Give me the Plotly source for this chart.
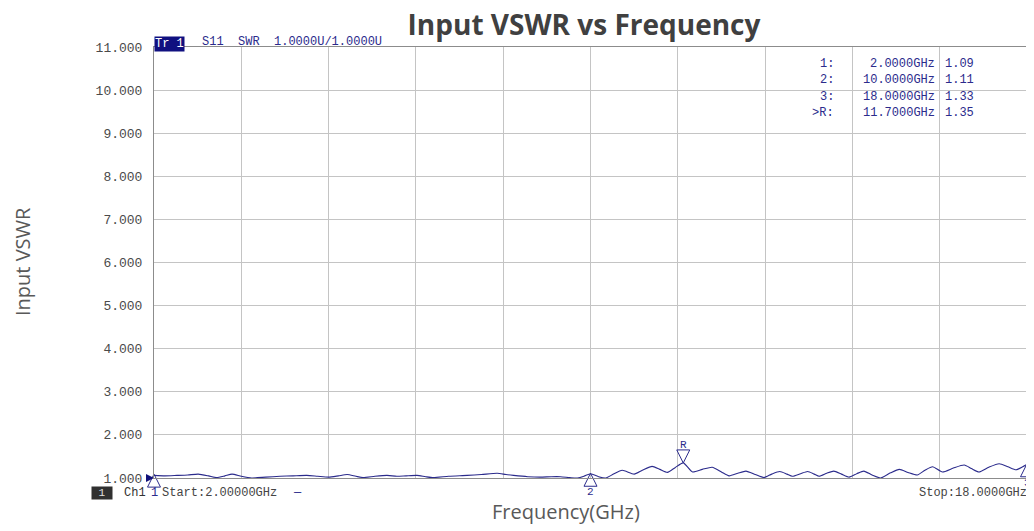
import plotly.graph_objects as go

# S11 SWR trace
freq_ghz = [2.00, 2.20, 2.42, 2.62, 2.81, 3.00, 3.15, 3.30, 3.43, 3.60, 3.79, 4.05, 4.31, 4.55,
            4.80, 5.00, 5.20, 5.38, 5.54, 5.70, 5.83, 6.05, 6.27, 6.45, 6.62, 6.82, 6.98, 7.12,
            7.40, 7.74, 8.00, 8.29, 8.45, 8.59, 8.85, 9.08, 9.28, 9.45, 9.62, 9.76, 9.88, 10.00,
            10.15, 10.28, 10.42, 10.58, 10.80, 10.95, 11.13, 11.27, 11.41, 11.55, 11.70, 11.87,
            12.05, 12.23, 12.40, 12.54, 12.70, 12.85, 13.02, 13.18, 13.32, 13.47, 13.60, 13.70,
            13.85, 13.98, 14.10, 14.19, 14.33, 14.46, 14.60, 14.74, 14.88, 15.01, 15.16, 15.32,
            15.50, 15.66, 15.82, 15.99, 16.13, 16.27, 16.45, 16.65, 16.85, 16.98, 17.12, 17.30,
            17.49, 17.65, 17.80, 17.92, 18.00]
vswr = [1.06, 1.05, 1.06, 1.07, 1.09, 1.05, 1.01, 1.05, 1.09, 1.04, 1.00, 1.02, 1.04, 1.05,
        1.06, 1.04, 1.02, 1.05, 1.08, 1.04, 1.01, 1.04, 1.06, 1.04, 1.05, 1.06, 1.03, 1.01,
        1.04, 1.06, 1.08, 1.11, 1.08, 1.06, 1.03, 1.02, 1.03, 1.03, 1.01, 1.00, 1.04, 1.10,
        1.03, 1.00, 1.09, 1.18, 1.09, 1.18, 1.27, 1.20, 1.13, 1.24, 1.35, 1.14,
        1.20, 1.25, 1.14, 1.05, 1.11, 1.16, 1.08, 1.01, 1.09, 1.15, 1.09, 1.04,
        1.10, 1.15, 1.09, 1.04, 1.11, 1.16, 1.09, 1.02, 1.10, 1.16, 1.07, 1.00,
        1.12, 1.20, 1.13, 1.07, 1.18, 1.26, 1.14, 1.23, 1.30, 1.22, 1.14, 1.25,
        1.33, 1.26, 1.19, 1.26, 1.32]

# markers (name, frequency, readout)
marker_names = ["1", "2", "3", "R"]
marker_freq = [2.0, 10.0, 18.0, 11.7]
marker_vswr = [1.09, 1.11, 1.33, 1.35]

y_ticks = [1, 2, 3, 4, 5, 6, 7, 8, 9, 10, 11]

NAVY = "#2b2b8c"
INSTR_FONT = "Liberation Mono"

# the page body adds an 8px margin, so the figure is drawn 8px smaller
PAGE_OFF = 8
FIG_W, FIG_H = 1034 - PAGE_OFF, 531 - PAGE_OFF
PLOT_L, PLOT_R, PLOT_T, PLOT_B = 154, 1027, 47, 478   # plot box in page pixels
PW, PH = PLOT_R - PLOT_L, PLOT_B - PLOT_T


def px(x):
    return (x - PLOT_L) / PW


def py(y):
    return (PLOT_B - y) / PH


fig = go.Figure()

fig.add_trace(go.Scatter(
    x=freq_ghz, y=vswr, mode="lines",
    line=dict(color=NAVY, width=1.1, shape="spline", smoothing=0.6),
    hoverinfo="x+y", showlegend=False
))

# normal markers 1,2,3: open triangles with tip on the trace
norm_x = [f for n, f in zip(marker_names, marker_freq) if n != "R"]
norm_y = [v for n, v in zip(marker_names, marker_vswr) if n != "R"]
fig.add_trace(go.Scatter(
    x=norm_x, y=norm_y, mode="markers",
    marker=dict(symbol="arrow-up-open", size=13, color=NAVY, line=dict(width=1, color=NAVY)),
    cliponaxis=False, showlegend=False, hoverinfo="skip"
))
# reference marker R: inverted triangle above trace
ref_x = [f for n, f in zip(marker_names, marker_freq) if n == "R"]
ref_y = [v for n, v in zip(marker_names, marker_vswr) if n == "R"]
fig.add_trace(go.Scatter(
    x=ref_x, y=ref_y, mode="markers",
    marker=dict(symbol="arrow-down-open", size=13, color=NAVY, line=dict(width=1, color=NAVY)),
    cliponaxis=False, showlegend=False, hoverinfo="skip"
))
# reference level pointers at both edges
fig.add_trace(go.Scatter(
    x=[freq_ghz[0], freq_ghz[-1]], y=[y_ticks[0], y_ticks[0]], mode="markers",
    marker=dict(symbol=["arrow-right", "arrow-left"], size=8, color="#10107a", line=dict(width=0)),
    cliponaxis=False, showlegend=False, hoverinfo="skip"
))

annotations = []
# marker labels
for n, f, v in zip(marker_names, marker_freq, marker_vswr):
    if n == "R":
        annotations.append(dict(x=f, y=v, xref="x", yref="y", text=n, showarrow=False,
                                yshift=18, font=dict(family=INSTR_FONT, size=11, color=NAVY)))
    elif n == "2" or n == "3":
        annotations.append(dict(x=f, y=v, xref="x", yref="y", text=n, showarrow=False,
                                yshift=-19, font=dict(family=INSTR_FONT, size=11, color=NAVY)))

# marker readout table
for i, (n, f, v) in enumerate(zip(marker_names, marker_freq, marker_vswr)):
    ypos = py(64 + 16.3 * i)
    label = (">" if n == "R" else "") + n + ":"
    annotations.append(dict(x=px(836), y=ypos, xref="paper", yref="paper", text=label,
                            showarrow=False, xanchor="right", yanchor="middle",
                            font=dict(family=INSTR_FONT, size=12, color=NAVY)))
    annotations.append(dict(x=px(937), y=ypos, xref="paper", yref="paper",
                            text=f"{f:.4f}GHz", showarrow=False, xanchor="right", yanchor="middle",
                            font=dict(family=INSTR_FONT, size=12, color=NAVY)))
    annotations.append(dict(x=px(943), y=ypos, xref="paper", yref="paper",
                            text=f"{v:.2f}", showarrow=False, xanchor="left", yanchor="middle",
                            font=dict(family=INSTR_FONT, size=12, color=NAVY)))

# trace header
annotations.append(dict(x=0, y=1, xref="paper", yref="paper", text="Tr 1", showarrow=False,
                        xanchor="left", yanchor="bottom", yshift=-5, bgcolor="#101080",
                        borderpad=0, font=dict(family=INSTR_FONT, size=12, color="white")))
annotations.append(dict(x=px(200), y=1, xref="paper", yref="paper",
                        text="S11  SWR  1.0000U/1.0000U", showarrow=False,
                        xanchor="left", yanchor="bottom", yshift=-4,
                        font=dict(family=INSTR_FONT, size=12, color=NAVY)))

# channel footer
foot_y = py(493)
annotations.append(dict(x=px(91), y=foot_y, xref="paper", yref="paper", text=" 1 ",
                        showarrow=False, xanchor="left", yanchor="middle", bgcolor="#303030",
                        borderpad=0, font=dict(family=INSTR_FONT, size=11, color="#e0e0e0")))
annotations.append(dict(x=px(122), y=foot_y, xref="paper", yref="paper", text="Ch1",
                        showarrow=False, xanchor="left", yanchor="middle",
                        font=dict(family=INSTR_FONT, size=12, color="#333333")))
annotations.append(dict(x=px(149), y=foot_y, xref="paper", yref="paper", text="1",
                        showarrow=False, xanchor="left", yanchor="middle",
                        font=dict(family=INSTR_FONT, size=12, color=NAVY)))
annotations.append(dict(x=px(160), y=foot_y, xref="paper", yref="paper",
                        text=f"Start:{freq_ghz[0]:.5f}GHz", showarrow=False, xanchor="left",
                        yanchor="middle", font=dict(family=INSTR_FONT, size=12, color="#444444")))
annotations.append(dict(x=px(291), y=foot_y, xref="paper", yref="paper", text="—",
                        showarrow=False, xanchor="left", yanchor="middle",
                        font=dict(family=INSTR_FONT, size=12, color=NAVY)))
annotations.append(dict(x=px(1029), y=foot_y, xref="paper", yref="paper",
                        text=f"Stop:{freq_ghz[-1]:.4f}GHz", showarrow=False, xanchor="right",
                        yanchor="middle", font=dict(family=INSTR_FONT, size=12, color="#444444")))

# axis titles
annotations.append(dict(x=px(566), y=py(511), xref="paper", yref="paper",
                        text="Frequency(GHz)", showarrow=False, xanchor="center", yanchor="middle",
                        font=dict(family="Open Sans", size=20, color="#595959")))
annotations.append(dict(x=px(22), y=py(262), xref="paper", yref="paper",
                        text="Input VSWR", textangle=-90, showarrow=False, xanchor="center",
                        yanchor="middle", font=dict(family="Open Sans", size=20, color="#595959")))

fig.update_layout(
    width=FIG_W, height=FIG_H,
    margin=dict(l=PLOT_L - PAGE_OFF, r=1034 - PLOT_R, t=PLOT_T - PAGE_OFF, b=531 - PLOT_B,
                autoexpand=False),
    paper_bgcolor="white", plot_bgcolor="white",
    title=dict(text="<b>Input VSWR vs Frequency</b>", x=(584 - PAGE_OFF) / FIG_W, xref="container",
               y=1 - (25 - PAGE_OFF) / FIG_H, yref="container", xanchor="center", yanchor="middle",
               font=dict(family="Open Sans", size=28, color="#404040")),
    annotations=annotations,
    showlegend=False,
)
fig.update_xaxes(range=[2, 18], tick0=2, dtick=1.6, showticklabels=False, ticks="",
                 automargin=False,
                 showgrid=True, gridcolor="#c4c4c4", gridwidth=1, zeroline=False,
                 showline=True, linecolor="#8c8c8c", linewidth=1, mirror=True)
fig.update_yaxes(range=[1, 11], tickvals=y_ticks, ticktext=[f"{t:.3f}" for t in y_ticks],
                 ticks="", ticklabelstandoff=8, automargin=False,
                 tickfont=dict(family=INSTR_FONT, size=13, color="#4a4a4a"),
                 showgrid=True, gridcolor="#c4c4c4", gridwidth=1, zeroline=False,
                 showline=True, linecolor="#8c8c8c", linewidth=1, mirror=True)

fig.write_html("out.html")
